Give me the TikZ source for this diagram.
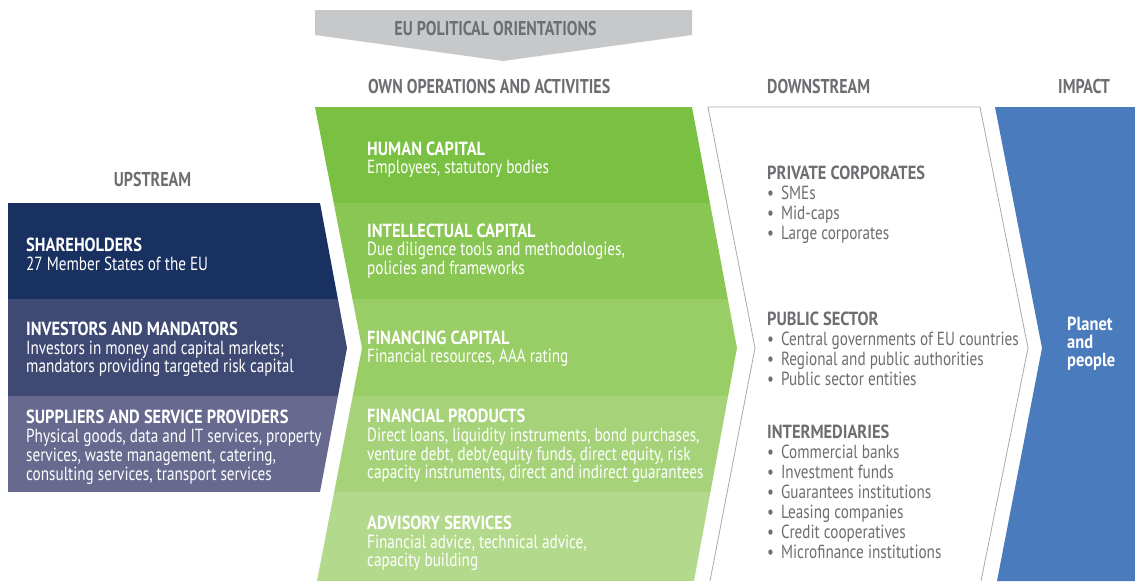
\documentclass[tikz,border=0pt]{standalone}
\usepackage{fontspec}
\setmainfont{PT Sans}[FakeStretch=0.80, BoldFeatures={FakeStretch=0.865}]
\newfontfamily\hdrfont{PT Sans}[FakeStretch=0.80]
\definecolor{hgray}{HTML}{6D6E71}
\definecolor{arrgray}{HTML}{C7C8CA}
\definecolor{upA}{HTML}{183160}
\definecolor{upB}{HTML}{3F4A74}
\definecolor{upC}{HTML}{676A8E}
\definecolor{grA}{HTML}{7AC143}
\definecolor{grB}{HTML}{8AC654}
\definecolor{grC}{HTML}{99CD66}
\definecolor{grD}{HTML}{A6D37A}
\definecolor{grE}{HTML}{B3D98C}
\definecolor{outl}{HTML}{A7A9AC}
\definecolor{impblue}{HTML}{4A7BBD}
\begin{document}
\begin{tikzpicture}[x=1pt,y=-1pt,
  hdr/.style={font=\hdrfont\fontsize{20}{20}\selectfont\bfseries, text=hgray, inner sep=0},
  ttl/.style={font=\fontsize{19}{19}\selectfont\bfseries, anchor=base west, inner sep=0},
  txt/.style={font=\fontsize{19}{19}\selectfont, anchor=base west, inner sep=0},
  wt/.style={text=white},
  gt/.style={text=hgray},
  bul/.style={font=\fontsize{19}{19}\selectfont, anchor=base west, inner sep=0, text=hgray}]
\useasboundingbox (0,0) rectangle (1135,581);
\fill[white] (0,0) rectangle (1135,581);
% top arrow
\fill[arrgray] (315,10) -- (692,10) -- (692,35) -- (503,61) -- (315,35) -- cycle;
\node[hdr, anchor=base] (hEU) at (495.5,35) {EU POLITICAL ORIENTATIONS};
% headers
\node[hdr, anchor=base west] (hOwn) at (368,93) {OWN OPERATIONS AND ACTIVITIES};
\node[hdr, anchor=base west] (hDown) at (767,93) {DOWNSTREAM};
\node[hdr, anchor=base west] (hImp) at (1058,93) {IMPACT};
\node[hdr, anchor=base] (hUp) at (152.5,186) {UPSTREAM};
% upstream
\begin{scope}
\clip (8,203) -- (320,203) -- (347,348) -- (320,492) -- (8,492) -- cycle;
\fill[upA] (0,203) rectangle (360,299);
\fill[upB] (0,299) rectangle (360,396);
\fill[upC] (0,396) rectangle (360,492);
\end{scope}
% green
\begin{scope}
\clip (315,107) -- (692,107) -- (737,348) -- (694,581) -- (317,581) -- (362,348) -- cycle;
\fill[grA] (300,107) rectangle (750,203);
\fill[grB] (300,203) rectangle (750,299);
\fill[grC] (300,299) rectangle (750,396);
\fill[grD] (300,396) rectangle (750,492);
\fill[grE] (300,492) rectangle (750,581);
\end{scope}
% downstream
\fill[white] (710,581) -- (755,348) -- (708,107) -- (980,107) -- (1028,348) -- (981,581) -- cycle;
\draw[outl, line width=0.8pt] (710,581) -- (755,348) -- (708,107) -- (980,107) -- (1028,348) -- (981,581);
% impact
\fill[impblue] (995,107) -- (1135,107) -- (1135,581) -- (997,581) -- (1042,348) -- cycle;
% upstream text
\node[ttl, wt] (sh1) at (26,251) {SHAREHOLDERS};
\node[txt, wt] (sh2) at (26,270) {27 Member States of the EU};
\node[ttl, wt] (in1) at (26,335) {INVESTORS AND MANDATORS};
\node[txt, wt] (in2) at (26,354) {Investors in money and capital markets;};
\node[txt, wt] (in3) at (26,372) {mandators providing targeted risk capital};
\node[ttl, wt] (su1) at (26,423) {SUPPLIERS AND SERVICE PROVIDERS};
\node[txt, wt] (su2) at (26,442) {Physical goods, data and IT services, property};
\node[txt, wt] (su3) at (26,461) {services, waste management, catering,};
\node[txt, wt] (su4) at (26,480) {consulting services, transport services};
% green text
\node[ttl, wt] (hc1) at (367,155) {HUMAN CAPITAL};
\node[txt, wt] (hc2) at (367,173) {Employees, statutory bodies};
\node[ttl, wt] (ic1) at (367,237) {INTELLECTUAL CAPITAL};
\node[txt, wt] (ic2) at (367,255) {Due diligence tools and methodologies,};
\node[txt, wt] (ic3) at (367,274) {policies and frameworks};
\node[ttl, wt] (fc1) at (367,344) {FINANCING CAPITAL};
\node[txt, wt] (fc2) at (367,362) {Financial resources, AAA rating};
\node[ttl, wt] (fp1) at (367,422) {FINANCIAL PRODUCTS};
\node[txt, wt] (fp2) at (367,441) {Direct loans, liquidity instruments, bond purchases,};
\node[txt, wt] (fp3) at (367,460) {venture debt, debt/equity funds, direct equity, risk};
\node[txt, wt] (fp4) at (367,478) {capacity instruments, direct and indirect guarantees};
\node[ttl, wt] (as1) at (367,529) {ADVISORY SERVICES};
\node[txt, wt] (as2) at (367,548) {Financial advice, technical advice,};
\node[txt, wt] (as3) at (367,566) {capacity building};
% downstream text
\node[ttl, gt] (pc) at (767,179) {PRIVATE CORPORATES};
\node[bul] (pc1) at (767,199) {•\hspace{7pt}SMEs};
\node[bul] (pc2) at (767,219) {•\hspace{7pt}Mid-caps};
\node[bul] (pc3) at (767,239) {•\hspace{7pt}Large corporates};
\node[ttl, gt] (ps) at (767,325) {PUBLIC SECTOR};
\node[bul] (ps1) at (767,345) {•\hspace{7pt}Central governments of EU countries};
\node[bul] (ps2) at (767,365) {•\hspace{7pt}Regional and public authorities};
\node[bul] (ps3) at (767,385) {•\hspace{7pt}Public sector entities};
\node[ttl, gt] (im) at (767,438) {INTERMEDIARIES};
\node[bul] (im1) at (767,458) {•\hspace{7pt}Commercial banks};
\node[bul] (im2) at (767,478) {•\hspace{7pt}Investment funds};
\node[bul] (im3) at (767,498) {•\hspace{7pt}Guarantees institutions};
\node[bul] (im4) at (767,518) {•\hspace{7pt}Leasing companies};
\node[bul] (im5) at (767,538) {•\hspace{7pt}Credit cooperatives};
\node[bul] (im6) at (767,558) {•\hspace{7pt}Microfinance institutions};
% impact text
\node[ttl, wt] (pl1) at (1067,330) {Planet};
\node[ttl, wt] (pl2) at (1067,348) {and};
\node[ttl, wt] (pl3) at (1067,366) {people};
\end{tikzpicture}
\end{document}
